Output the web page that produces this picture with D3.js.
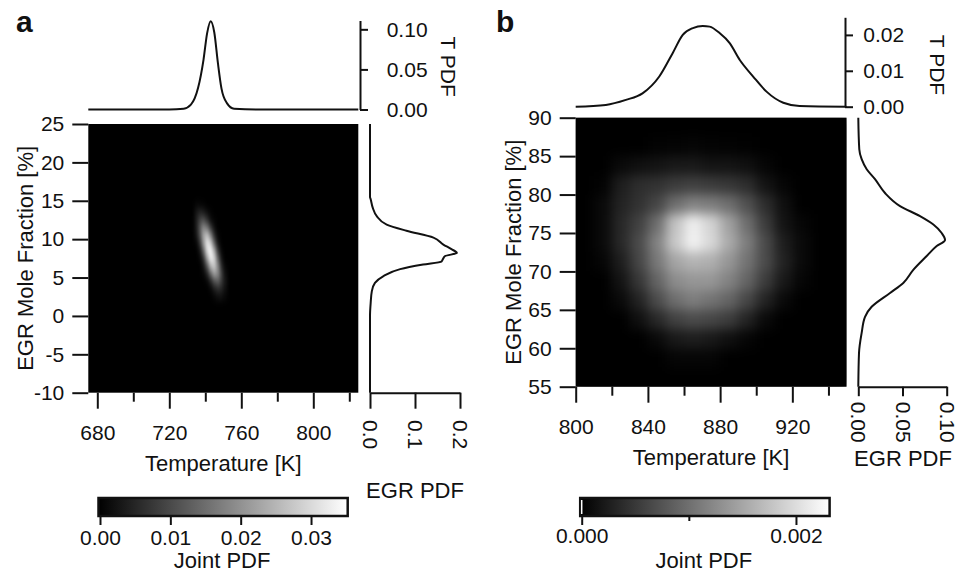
<!DOCTYPE html>
<html>
<head>
<meta charset="utf-8">
<script src="https://cdn.jsdelivr.net/npm/d3@7"></script>
<style>
body { margin: 0; background: #fff; }
svg text { font-family: "Liberation Sans", Arial, sans-serif; fill: #111; }
</style>
</head>
<body>
<svg id="chart" width="956" height="573"></svg>
<script>
// ---- panel a data ----
const tempA = [675, 720, 728, 732, 736, 739, 741, 743, 745, 747, 749, 752, 756, 770, 825];
const tPdfA = [0, 0, 0.001, 0.006, 0.027, 0.062, 0.095, 0.110, 0.096, 0.058, 0.026, 0.008, 0.001, 0, 0];
const egrA = [25, 15.5, 15.2, 14.1, 13.0, 11.9, 11.1, 10.2, 9.3, 8.7, 8.2, 7.8, 7.4, 7.1, 6.7, 6.1, 5.2, 4.3, 3.2, 1.7, 0, -10];
const egrPdfA = [0, 0, 0.0015, 0.006, 0.015, 0.037, 0.081, 0.141, 0.163, 0.181, 0.193, 0.167, 0.162, 0.159, 0.118, 0.067, 0.030, 0.011, 0.004, 0.0015, 0, 0];
// joint pdf, rows = EGR bin centres, cols = T bin centres (units 1e-3)
const jointTA = [735, 737, 739, 741, 743, 745, 747, 749, 751];
const jointEgrA = [14.5, 13.5, 12.5, 11.5, 10.5, 9.5, 8.5, 7.5, 6.5, 5.5, 4.5, 3.5, 2.5];
const jointA = [
  [1, 1, 0.5, 0, 0, 0, 0, 0, 0],
  [3, 5, 4, 2, 0.5, 0, 0, 0, 0],
  [4, 9, 11, 7, 2, 0.5, 0, 0, 0],
  [4, 12, 19, 16, 8, 2, 0, 0, 0],
  [3, 11, 23, 27, 18, 6, 1, 0, 0],
  [1, 7, 21, 32, 28, 13, 3, 0, 0],
  [0, 3, 14, 30, 34, 23, 8, 1, 0],
  [0, 1, 7, 22, 33, 29, 14, 3, 0],
  [0, 0, 3, 12, 25, 28, 19, 6, 1],
  [0, 0, 1, 5, 14, 22, 19, 9, 2],
  [0, 0, 0, 1, 5, 11, 13, 8, 3],
  [0, 0, 0, 0, 1, 4, 6, 5, 2],
  [0, 0, 0, 0, 0, 1, 2, 2, 1]
];
const tTicksA = [680, 720, 760, 800];
const tMinorA = [700, 740, 780, 820];
const egrTicksA = [25, 20, 15, 10, 5, 0, -5, -10];
const tPdfTicksA = [0, 0.05, 0.10];
const egrPdfTicksA = [0, 0.1, 0.2];
const cTicksA = [0, 0.01, 0.02, 0.03];

// ---- panel b data ----
const tempB = [800, 816.7, 827.8, 837, 846.3, 853.7, 859.3, 864.9, 870.4, 874.2, 879.7, 885.3, 890.9, 898.3, 905.7, 915, 924, 950];
const tPdfB = [0, 0.0005, 0.0019, 0.0037, 0.0084, 0.0149, 0.0200, 0.0219, 0.0225, 0.0223, 0.0205, 0.0177, 0.0130, 0.0084, 0.0042, 0.0011, 0.0002, 0];
const egrB = [90, 85.9, 84.6, 83.3, 82, 80.2, 78.5, 77.2, 76.1, 75, 74.1, 73.3, 72, 70.2, 68.5, 67.2, 65.4, 64.1, 62, 59.4, 55];
const egrPdfB = [0, 0.0011, 0.0038, 0.0095, 0.0189, 0.0302, 0.0472, 0.0698, 0.0849, 0.0943, 0.0981, 0.0887, 0.0774, 0.0622, 0.0509, 0.0359, 0.0151, 0.0076, 0.0038, 0.0008, 0];
// units 1e-4
const jointTB = [805, 815, 825, 835, 845, 855, 865, 875, 885, 895, 905, 915, 925, 935, 945];
const jointEgrB = [88.75, 86.25, 83.75, 81.25, 78.75, 76.25, 73.75, 71.25, 68.75, 66.25, 63.75, 61.25, 58.75, 56.25];
const jointB = [
  [0, 0, 0, 0, 0, 0, 0, 0, 0, 0, 0, 0, 0, 0, 0],
  [0, 0, 0, 0, 0.3, 0.4, 0.5, 0.4, 0.3, 0.2, 0, 0, 0, 0, 0],
  [0, 0, 0.9, 1.4, 1.8, 2.3, 2.3, 1.8, 1.8, 1.4, 0.5, 0, 0, 0, 0],
  [0, 0.3, 2.7, 4.1, 4.5, 5.4, 5.9, 5.4, 5.0, 4.1, 1.8, 0.5, 0, 0, 0],
  [0, 0.9, 3.2, 4.5, 6.3, 9.9, 11.7, 11.3, 9.9, 7.2, 4.1, 1.4, 0, 0, 0],
  [0, 0.9, 3.6, 5.9, 9.9, 17.5, 21.5, 19.0, 14.4, 9.9, 5.4, 1.8, 0.5, 0, 0],
  [0, 0.9, 3.6, 6.8, 11.7, 18.0, 21.8, 19.5, 15.3, 11.3, 6.8, 2.7, 0.9, 0, 0],
  [0, 0.5, 2.7, 6.3, 10.8, 14.9, 16.2, 15.8, 13.5, 10.4, 6.8, 3.2, 0.9, 0, 0],
  [0, 0, 1.8, 5.0, 9.0, 12.6, 13.5, 13.5, 11.7, 9.0, 5.4, 2.3, 0.5, 0, 0],
  [0, 0, 0.9, 3.2, 6.8, 9.9, 11.3, 10.4, 9.0, 6.3, 3.2, 0.9, 0, 0, 0],
  [0, 0, 0, 1.4, 3.6, 5.9, 6.8, 6.3, 5.4, 3.2, 0.9, 0, 0, 0, 0],
  [0, 0, 0, 0, 0.9, 2.3, 2.7, 2.3, 1.4, 0.5, 0, 0, 0, 0, 0],
  [0, 0, 0, 0, 0, 0.5, 0.5, 0.5, 0, 0, 0, 0, 0, 0, 0],
  [0, 0, 0, 0, 0, 0, 0, 0, 0, 0, 0, 0, 0, 0, 0]
];
const tTicksB = [800, 840, 880, 920];
const tMinorB = [820, 860, 900, 940];
const egrTicksB = [90, 85, 80, 75, 70, 65, 60, 55];
const tPdfTicksB = [0, 0.01, 0.02];
const egrPdfTicksB = [0, 0.05, 0.10];
const cTicksB = [0, 0.002];
const cMinorB = [0.001];

const FS = 21;

let svg = d3.select("#chart");
let defs = svg.append("defs");

function style_axis(g) {
    g.attr("font-size", FS);
    g.selectAll("line").attr("stroke", "#111").attr("stroke-width", 2);
    g.selectAll("path.domain").attr("stroke", "#111").attr("stroke-width", 2);
}

function draw_panel(p) {
    let g = svg.append("g");
    let x = d3.scaleLinear().domain(p.tDomain).range([p.left, p.right]);
    let y = d3.scaleLinear().domain(p.egrDomain).range([p.bottom, p.top]);
    let color = d3.scaleLinear().domain([0, p.cMax]).range(["#000", "#fff"]).clamp(true);

    // heatmap
    defs.append("clipPath").attr("id", "clip-" + p.id)
        .append("rect")
        .attr("x", p.left).attr("y", p.top)
        .attr("width", p.right - p.left).attr("height", p.bottom - p.top);
    defs.append("filter").attr("id", "blur-" + p.id)
        .attr("color-interpolation-filters", "sRGB")
        .attr("x", "-30%").attr("y", "-30%").attr("width", "160%").attr("height", "160%")
        .append("feGaussianBlur").attr("stdDeviation", p.blur);
    g.append("rect")
        .attr("x", p.left).attr("y", p.top)
        .attr("width", p.right - p.left).attr("height", p.bottom - p.top)
        .attr("fill", "#000");
    let cells = [];
    p.jointEgr.forEach((e, i) => {
        p.jointT.forEach((t, j) => cells.push({t: t, e: e, v: p.joint[i][j] * p.unit}));
    });
    let cw = Math.abs(x(p.jointT[1]) - x(p.jointT[0]));
    let ch = Math.abs(y(p.jointEgr[1]) - y(p.jointEgr[0]));
    g.append("g").attr("clip-path", `url(#clip-${p.id})`)
        .append("g").attr("filter", `url(#blur-${p.id})`)
        .selectAll("rect").data(cells).join("rect")
        .attr("x", d => x(d.t) - cw / 2)
        .attr("y", d => y(d.e) - ch / 2)
        .attr("width", cw + 0.5)
        .attr("height", ch + 0.5)
        .attr("fill", d => color(d.v));

    // heatmap axes
    g.append("g").attr("transform", `translate(${p.left},0)`)
        .call(d3.axisLeft(y).tickValues(p.egrTicks).tickSize(16).tickPadding(8)
            .tickFormat(d => String(d)).tickSizeOuter(0))
        .call(style_axis)
        .call(a => a.select(".domain").remove());
    g.append("g").attr("transform", `translate(0,${p.bottom})`)
        .call(d3.axisBottom(x).tickValues(p.tTicks).tickSize(16).tickPadding(16).tickSizeOuter(0))
        .call(style_axis)
        .call(a => a.select(".domain").remove());
    g.append("g").attr("transform", `translate(0,${p.bottom})`)
        .call(d3.axisBottom(x).tickValues(p.tMinor).tickSize(9).tickFormat("").tickSizeOuter(0))
        .call(style_axis)
        .call(a => a.select(".domain").remove());
    g.append("text")
        .attr("transform", `translate(${p.yTitleX},${(p.top + p.bottom) / 2}) rotate(-90)`)
        .attr("text-anchor", "middle").attr("font-size", 22)
        .text("EGR Mole Fraction [%]");
    g.append("text")
        .attr("x", (p.left + p.right) / 2).attr("y", p.xTitleY)
        .attr("text-anchor", "middle").attr("font-size", 22)
        .text("Temperature [K]");

    // top marginal: T PDF
    let yT = d3.scaleLinear().domain([0, p.tPdfMax]).range([p.tBase, p.tTopPx]);
    let tLine = d3.line().x(d => x(d[0])).y(d => yT(d[1])).curve(d3.curveMonotoneX);
    g.append("path")
        .datum(d3.zip(p.temp, p.tPdf))
        .attr("fill", "none").attr("stroke", "#111").attr("stroke-width", 2)
        .attr("d", tLine);
    g.append("g").attr("transform", `translate(${p.tAxisX},0)`)
        .call(d3.axisRight(yT).tickValues(p.tPdfTicks).tickSize(8).tickPadding(p.tPad)
            .tickFormat(d3.format(".2f")).tickSizeOuter(0))
        .call(style_axis);
    g.append("text")
        .attr("transform", `translate(${p.tLabelX},${p.tLabelY}) rotate(90)`)
        .attr("text-anchor", "middle").attr("font-size", FS)
        .text("T PDF");

    // right marginal: EGR PDF
    let xE = d3.scaleLinear().domain([0, p.ePdfMax]).range([p.eLeft, p.eRight]);
    let eLine = d3.line().x(d => xE(d[1])).y(d => y(d[0])).curve(d3.curveMonotoneY);
    g.append("path")
        .datum(d3.zip(p.egr, p.egrPdf))
        .attr("fill", "none").attr("stroke", "#111").attr("stroke-width", 2)
        .attr("d", eLine);
    g.append("g").attr("transform", `translate(0,${p.bottom})`)
        .call(d3.axisBottom(xE).tickValues(p.ePdfTicks).tickSize(p.eTick)
            .tickFormat(d3.format(p.eFmt)).tickSizeOuter(0))
        .call(style_axis)
        .call(a => a.selectAll("text")
            .attr("transform", "rotate(90)")
            .attr("x", p.eLabOff).attr("y", 0).attr("dy", "0.35em")
            .attr("text-anchor", "start"));
    g.append("text")
        .attr("x", p.eTitleX).attr("y", p.eTitleY)
        .attr("text-anchor", "middle").attr("font-size", 22)
        .text("EGR PDF");

    // colorbar
    let cx = d3.scaleLinear().domain([0, p.cMax]).range([p.cbLeft, p.cbLeft + p.cbPx]);
    let grad = defs.append("linearGradient").attr("id", "grad-" + p.id);
    grad.append("stop").attr("offset", "0%").attr("stop-color", color(0));
    grad.append("stop").attr("offset", "100%").attr("stop-color", color(p.cMax));
    g.append("rect")
        .attr("x", cx(0) - 1.5).attr("y", p.cbTop)
        .attr("width", cx(p.cMax) - cx(0) + 3).attr("height", p.cbH)
        .attr("fill", `url(#grad-${p.id})`)
        .attr("stroke", "#111").attr("stroke-width", 2.5);
    if (p.zeroLine) {
        g.append("line")
            .attr("x1", cx(0)).attr("x2", cx(0))
            .attr("y1", p.cbTop + 2).attr("y2", p.cbTop + p.cbH - 2)
            .attr("stroke", "#fff").attr("stroke-width", 1.5);
    }
    g.append("g").attr("transform", `translate(0,${p.cbTop + p.cbH})`)
        .call(d3.axisBottom(cx).tickValues(p.cTicks).tickSize(9).tickPadding(p.cPad)
            .tickFormat(d3.format(p.cFmt)).tickSizeOuter(0))
        .call(style_axis)
        .call(a => a.select(".domain").remove());
    if (p.cMinor) {
        g.append("g").attr("transform", `translate(0,${p.cbTop + p.cbH})`)
            .call(d3.axisBottom(cx).tickValues(p.cMinor).tickSize(5).tickFormat("").tickSizeOuter(0))
            .call(style_axis)
            .call(a => a.select(".domain").remove());
    }
    g.append("text")
        .attr("x", cx(0) + p.cbPx / 2 - 1).attr("y", p.cTitleY)
        .attr("text-anchor", "middle").attr("font-size", 22)
        .text("Joint PDF");

    // panel letter
    g.append("text")
        .attr("x", p.letterX).attr("y", 32)
        .attr("font-size", 30).attr("font-weight", "bold")
        .text(p.id);
}

draw_panel({
    id: "a",
    left: 88.3, right: 358.3, top: 124, bottom: 392.7,
    tDomain: [675, 825], egrDomain: [-10, 25],
    jointT: jointTA, jointEgr: jointEgrA, joint: jointA, unit: 1e-3, blur: "1.8 3",
    cMax: 0.035,
    tTicks: tTicksA, tMinor: tMinorA, egrTicks: egrTicksA,
    yTitleX: 33, xTitleY: 470.7,
    temp: tempA, tPdf: tPdfA, tPdfMax: 0.111, tBase: 109.5, tTopPx: 20.5,
    tAxisX: 360, tPad: 18.7, tPdfTicks: tPdfTicksA, tLabelX: 441, tLabelY: 66.7,
    egr: egrA, egrPdf: egrPdfA, ePdfMax: 0.2, eLeft: 370, eRight: 460,
    ePdfTicks: egrPdfTicksA, eTick: 16, eFmt: ".1f", eLabOff: 27.3,
    eTitleX: 415, eTitleY: 498,
    cbLeft: 100, cbPx: 246.2, cbTop: 498, cbH: 18, cTicks: cTicksA, cFmt: ".2f", cPad: 5,
    cTitleY: 567.5, zeroLine: false,
    letterX: 16
});

draw_panel({
    id: "b",
    left: 575.7, right: 846.5, top: 117.7, bottom: 386.7,
    tDomain: [800, 950], egrDomain: [55, 90],
    jointT: jointTB, jointEgr: jointEgrB, joint: jointB, unit: 1e-4, blur: 6,
    cMax: 0.0023,
    tTicks: tTicksB, tMinor: tMinorB, egrTicks: egrTicksB,
    yTitleX: 521, xTitleY: 464.7,
    temp: tempB, tPdf: tPdfB, tPdfMax: 0.0249, tBase: 106.7, tTopPx: 17.3,
    tAxisX: 845, tPad: 10.3, tPdfTicks: tPdfTicksB, tLabelX: 930, tLabelY: 65,
    egr: egrB, egrPdf: egrPdfB, ePdfMax: 0.1, eLeft: 858.3, eRight: 946.7,
    ePdfTicks: egrPdfTicksB, eTick: 9.5, eFmt: ".2f", eLabOff: 15,
    eTitleX: 903, eTitleY: 466,
    cbLeft: 581.7, cbPx: 246.4, cbTop: 498, cbH: 18, cTicks: cTicksB, cMinor: cMinorB, cFmt: ".3f", cPad: 3,
    cTitleY: 568, zeroLine: true,
    letterX: 496
});
</script>
</body>
</html>
